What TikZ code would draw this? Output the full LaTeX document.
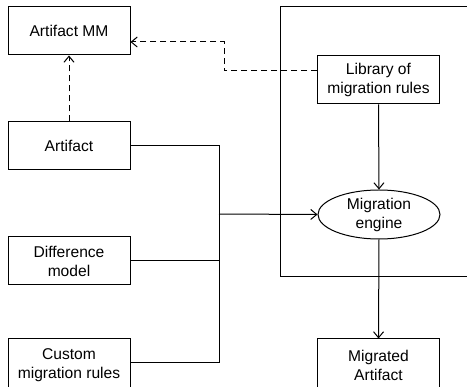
\documentclass[tikz,border=0pt]{standalone}
\usepackage{fontspec}
\setmainfont{Liberation Sans}
\usetikzlibrary{arrows.meta,shapes.geometric}
\begin{document}
\begin{tikzpicture}[x=1pt,y=-1pt,
  every node/.style={font=\fontsize{15.6}{19}\selectfont, align=center, inner sep=0pt},
  box/.style={draw, line width=1pt, minimum width=122pt, minimum height=48pt},
  conn/.style={line width=1pt},
  tip/.style={-{Straight Barb[length=6pt,width=10pt,line width=1pt]}},
  dashline/.style={conn, dash pattern=on 6pt off 4pt}]
\useasboundingbox (0,0) rectangle (467,387);
\begin{scope}
\clip (0,0) rectangle (467,387);
% enclosing frame of the migration tool
\draw[conn] (480,7) -- (280,7) -- (280,277) -- (480,277);
% inputs on the left
\node[box] (mm) at (69,31) {Artifact MM};
\node[box] (art) at (69,146) {Artifact};
\node[box] (diff) at (69,261) {Difference\\model};
\node[box, minimum height=52pt] (cust) at (69,365) {Custom\\migration rules};
% tool internals
\node[box] (lib) at (378.5,80) {Library of\\migration rules};
\node[draw, line width=1pt, ellipse, minimum width=122pt, minimum height=49pt] (eng) at (379,214.5) {Migration\\engine};
\node[box, minimum height=52pt] (out) at (378.5,365) {Migrated\\Artifact};
% connectors
\coordinate (j) at (219,214);
\draw[dashline, tip] (art.north) -- (mm.south);
\draw[dashline, tip] (lib.west |- 0,71) -- (224,71) -- (224,42) -- (mm.east |- 0,42);
\draw[conn] (art.east) -- (219,146) -- (219,363) -- (cust.east |- 0,363);
\draw[conn] (diff.east) -- (219,261);
\draw[conn, tip] (j) -- (eng.west);
\draw[conn, tip] (lib.south) -- (eng.north);
\draw[conn, tip] (eng.south) -- (out.north);
\end{scope}
\end{tikzpicture}
\end{document}
